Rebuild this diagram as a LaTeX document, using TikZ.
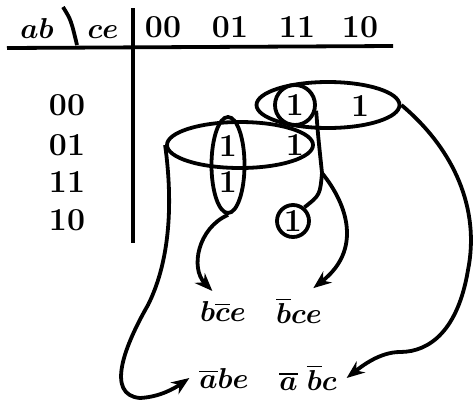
\documentclass[tikz,border=0pt]{standalone}
\usepackage{amsmath}
\usepackage{tikz}
\usetikzlibrary{arrows.meta, shapes.geometric}

\begin{document}
\begin{tikzpicture}[x=0.5pt, y=-0.5pt, line width=1.9pt,
  every node/.style={font=\fontsize{16}{19}\selectfont\bfseries\boldmath},
  var/.style={font=\fontsize{13.5}{16}\selectfont\boldmath},
  ring/.style={draw, circle, inner sep=0pt},
  loop/.style={draw, ellipse, inner sep=0pt},
  term/.style={var, inner sep=2pt, outer sep=3pt},
  arr/.style={-{Stealth[length=9pt, width=7pt]}}]
\useasboundingbox (0,0) rectangle (475,402);
% table lines
\draw (7,48) -- (393,46);
\draw (133,8) -- (133,243);
\draw (63,7) .. controls (71,20) .. (77,45);
% headings
\node[var, anchor=base] (ab) at (37,38) {$ab$};
\node[var, anchor=base] (ce) at (103,38) {$ce$};
\node[anchor=base] (h00) at (163,37) {00};
\node[anchor=base] (h01) at (230,37) {01};
\node[anchor=base] (h11) at (297,37) {11};
\node[anchor=base] (h10) at (360,37) {10};
\node (r00) at (67,105) {00};
\node (r01) at (67,145) {01};
\node (r11) at (67,182) {11};
\node (r10) at (67,220) {10};
% ones
\node[ring, minimum size=20pt] (one1) at (295,105) {1};
\node (one2) at (360,106) {1};
\node (one3) at (228,146) {1};
\node (one4) at (295,145) {1};
\node (one5) at (228,182) {1};
\node[ring, minimum size=16pt] (one6) at (293,221) {1};
% groups
\node[loop, minimum width=71.5pt, minimum height=23pt] (g00) at (328,105) {};
\node[loop, minimum width=73pt, minimum height=23pt] (g01) at (240,145) {};
\node[loop, minimum width=16.5pt, minimum height=48pt] (gv) at (228,165) {};
\coordinate (fork) at (322,173);
\draw (one1.-15) .. controls (318,135) .. (fork) .. controls (320,195) .. (one6.50);
% terms
\node[term] (t1) at (223,311) {$b\overline{c}e$};
\node[term] (t2) at (299,311) {$\overline{b}ce$};
\node[term] (t3) at (224,378) {$\overline{a}be$};
\node[term] (t4) at (308,378) {$\overline{a}\;\overline{b}c$};
% arrows
\draw[arr] (gv.south) .. controls (198,228) and (190,268) .. (t1.118);
\draw[arr] (fork) .. controls (348,205) and (362,250) .. (t2.58);
\draw[arr] (g01.west) .. controls (174,210) and (168,265) .. (148,305)
  .. controls (125,345) and (105,395) .. (140,398)
  .. controls (160,397) and (175,388) .. (t3.west);
\draw[arr] (g00.east) .. controls (455,150) and (480,210) .. (468,270)
  .. controls (458,330) and (430,352) .. (400,352)
  .. controls (380,352) and (362,366) .. (t4.east);
\end{tikzpicture}
\end{document}
